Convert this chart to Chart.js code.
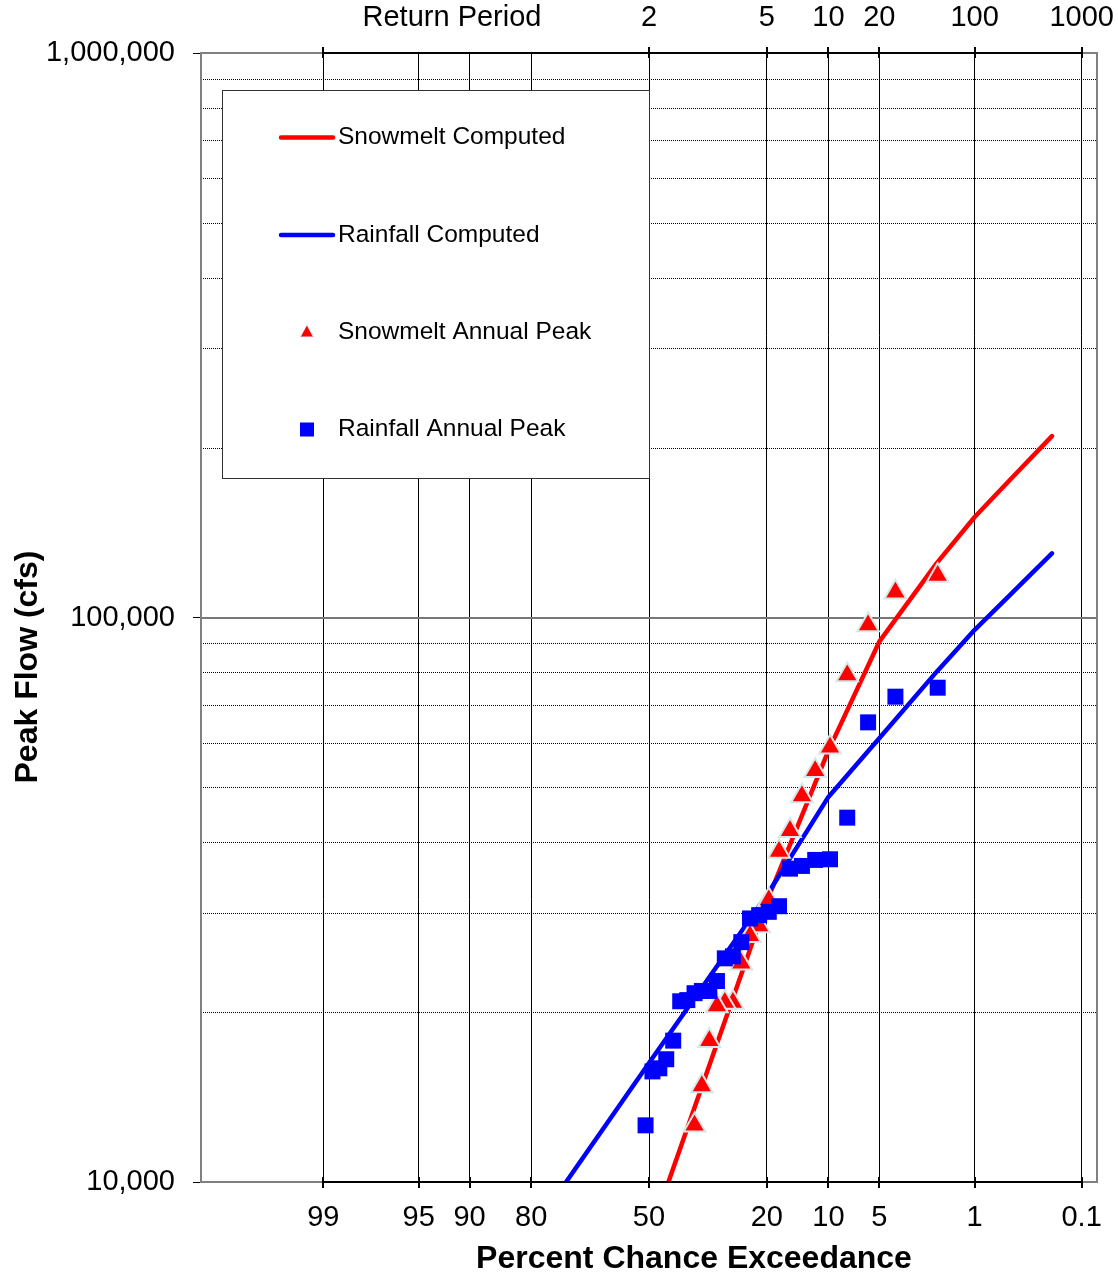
<!DOCTYPE html>
<html>
<head>
<meta charset="utf-8">
<script src="https://cdn.jsdelivr.net/npm/chart.js@4"></script>
<style>
  body { margin: 0; background: #fff; }
  canvas { display: block; }
</style>
</head>
<body>
<canvas id="freqChart" width="1118" height="1277"></canvas>
<script>
// Annual peaks, plotting position (percent chance exceedance) and flow (cfs)
const snowPeakExceed = [1.96, 3.92, 5.88, 7.84, 9.80, 11.76, 13.73, 15.69, 17.65, 19.61, 21.57, 23.53, 25.49, 27.45, 29.41, 31.37, 33.33, 35.29, 37.25];
const snowPeakFlow = [118700, 110900, 97000, 79100, 58900, 53500, 48300, 41900, 38500, 31600, 28400, 27300, 24400, 20800, 20800, 20500, 17800, 14800, 12600];

const rainPeakExceed = [1.96, 3.92, 5.88, 7.84, 9.80, 11.76, 13.73, 15.69, 17.65, 19.61, 21.57, 23.53, 25.49, 27.45, 29.41, 31.37, 33.33, 35.29, 37.25, 39.22, 41.18, 43.14, 45.10, 47.06, 49.02, 50.98];
const rainPeakFlow = [75100, 72400, 65200, 44200, 37300, 37200, 36300, 35900, 30800, 30100, 29700, 29300, 26600, 25100, 24900, 22700, 21800, 21800, 21600, 21000, 20900, 17800, 16500, 15900, 15700, 12600];

// Computed frequency curves
const curveExceed = [80, 50, 20, 10, 5, 2, 1, 0.5, 0.2];
const snowCurveFlow = [null, 7980, 31400, 58100, 90600, 124700, 150700, 175000, 209600];
const rainCurveFlow = [8150, 16250, 32200, 48100, 61100, 80100, 95100, 109400, 129900];

// Axis ticks
const xTickExceed = [99, 95, 90, 80, 50, 20, 10, 5, 1, 0.1];
const xTickLabels = ['99', '95', '90', '80', '50', '20', '10', '5', '1', '0.1'];
const topTickExceed = [99, 50, 20, 10, 5, 1, 0.1];
const topTickLabels = ['', '2', '5', '10', '20', '100', '1000'];
const yTickValues = [10000, 100000, 1000000];
const yTickLabels = ['10,000', '100,000', '1,000,000'];
const yMinorGrid = [20000, 30000, 40000, 50000, 60000, 70000, 80000, 90000,
    200000, 300000, 400000, 500000, 600000, 700000, 800000, 900000];

const FONT = '"Liberation Sans", Arial, sans-serif';

// Inverse standard normal (Acklam) - used for the probability paper x axis
function normInv(p) {
    const a = [-3.969683028665376e+01, 2.209460984245205e+02, -2.759285104469687e+02, 1.383577518672690e+02, -3.066479806614716e+01, 2.506628277386133e+00];
    const b = [-5.447609879822406e+01, 1.615858368580409e+02, -1.556989798598866e+02, 6.680131188771972e+01, -1.328068155288572e+01];
    const c = [-7.784894002430293e-03, -3.223964580411365e-01, -2.400758277161838e+00, -2.549732539343734e+00, 4.374664141464968e+00, 2.938163982698783e+00];
    const d = [7.784695709041462e-03, 3.224671290700398e-01, 2.445134137142996e+00, 3.754408661907416e+00];
    const pl = 0.02425;
    let q, r;
    if (p < pl) {
        q = Math.sqrt(-2 * Math.log(p));
        return (((((c[0] * q + c[1]) * q + c[2]) * q + c[3]) * q + c[4]) * q + c[5]) / ((((d[0] * q + d[1]) * q + d[2]) * q + d[3]) * q + 1);
    }
    if (p > 1 - pl) {
        q = Math.sqrt(-2 * Math.log(1 - p));
        return -(((((c[0] * q + c[1]) * q + c[2]) * q + c[3]) * q + c[4]) * q + c[5]) / ((((d[0] * q + d[1]) * q + d[2]) * q + d[3]) * q + 1);
    }
    q = p - 0.5;
    r = q * q;
    return (((((a[0] * r + a[1]) * r + a[2]) * r + a[3]) * r + a[4]) * r + a[5]) * q / (((((b[0] * r + b[1]) * r + b[2]) * r + b[3]) * r + b[4]) * r + 1);
}

// percent exceedance -> normal deviate
function zOf(exceed) {
    return normInv(1 - exceed / 100);
}

function toPoints(exceed, flow) {
    return exceed.map((e, i) => ({ x: zOf(e), y: flow[i] }));
}

function strokeLine(ctx, x1, y1, x2, y2) {
    ctx.beginPath();
    ctx.moveTo(x1, y1);
    ctx.lineTo(x2, y2);
    ctx.stroke();
}

// keep the plot area fixed: no extra room for overhanging labels
function fixHeight(h) {
    return scale => {
        scale.height = h;
        scale.paddingLeft = 0;
        scale.paddingRight = 0;
    };
}

// Gridlines behind data + legend box
const paperPlugin = {
    id: 'paper',
    beforeDatasetsDraw(chart) {
        const { ctx, chartArea: a, scales: { y } } = chart;
        ctx.save();

        // dotted minor lines
        ctx.strokeStyle = '#000';
        ctx.lineWidth = 1;
        ctx.setLineDash([1, 1]);
        yMinorGrid.forEach(v => {
            const py = Math.round(y.getPixelForValue(v)) + 0.5;
            strokeLine(ctx, a.left, py, a.right, py);
        });
        ctx.setLineDash([]);

        // 100,000 line
        ctx.strokeStyle = '#777';
        ctx.lineWidth = 2;
        const p100k = Math.round(y.getPixelForValue(100000));
        strokeLine(ctx, a.left, p100k, a.right, p100k);

        // legend
        ctx.fillStyle = '#fff';
        ctx.fillRect(222, 90, 428, 388);
        ctx.strokeStyle = '#333';
        ctx.lineWidth = 1;
        ctx.strokeRect(222.5, 90.5, 427, 388);

        const rows = [137.5, 235, 332, 429.5];
        const names = ['Snowmelt Computed', 'Rainfall Computed', 'Snowmelt Annual Peak', 'Rainfall Annual Peak'];

        ctx.lineCap = 'round';
        ctx.lineWidth = 4.5;
        ctx.strokeStyle = '#ff0000';
        strokeLine(ctx, 281, rows[0], 333, rows[0]);
        ctx.strokeStyle = '#0000ff';
        strokeLine(ctx, 281, rows[1], 333, rows[1]);

        // small triangle
        ctx.fillStyle = '#ff0000';
        ctx.strokeStyle = '#d9eded';
        ctx.lineWidth = 1;
        ctx.beginPath();
        ctx.moveTo(307, rows[2] - 7);
        ctx.lineTo(313.5, rows[2] + 5);
        ctx.lineTo(300.5, rows[2] + 5);
        ctx.closePath();
        ctx.fill();
        ctx.stroke();

        // small square
        ctx.fillStyle = '#0000ff';
        ctx.fillRect(300, rows[3] - 7, 14, 14);

        ctx.fillStyle = '#000';
        ctx.font = '24.5px ' + FONT;
        ctx.textAlign = 'left';
        ctx.textBaseline = 'middle';
        names.forEach((n, i) => ctx.fillText(n, 338, rows[i]));

        ctx.restore();
    },
    afterDraw(chart) {
        const { ctx, chartArea: a, scales: { x } } = chart;
        ctx.save();

        // plot border
        ctx.strokeStyle = '#808080';
        ctx.lineWidth = 2;
        ctx.strokeRect(a.left, a.top, a.right - a.left, a.bottom - a.top);

        // black axis lines with cross ticks
        ctx.strokeStyle = '#000';
        ctx.lineWidth = 2;
        const x99 = x.getPixelForValue(zOf(99));
        const x01 = x.getPixelForValue(zOf(0.1));
        strokeLine(ctx, x99, a.bottom, x01, a.bottom);
        strokeLine(ctx, x99, a.top, x01, a.top);
        xTickExceed.forEach(e => {
            const px = Math.round(x.getPixelForValue(zOf(e)));
            strokeLine(ctx, px, a.bottom - 5, px, a.bottom + 6);
        });
        topTickExceed.forEach(e => {
            const px = Math.round(x.getPixelForValue(zOf(e)));
            strokeLine(ctx, px, a.top - 6, px, a.top + 5);
        });

        // titles
        ctx.fillStyle = '#000';
        ctx.textAlign = 'center';
        ctx.textBaseline = 'middle';
        ctx.font = '29px ' + FONT;
        ctx.fillText('Return Period', 452, 18);

        ctx.font = 'bold 32px ' + FONT;
        ctx.fillText('Percent Chance Exceedance', 694, 1259);

        ctx.translate(28, 667);
        ctx.rotate(-Math.PI / 2);
        ctx.fillText('Peak Flow (cfs)', 0, 0);

        ctx.restore();
    }
};

const tickFont = { family: FONT, size: 29 };

const ctx = document.getElementById('freqChart').getContext('2d');

const freqChart = new Chart(ctx, {
    type: 'scatter',
    data: {
        datasets: [
            {
                label: 'Rainfall Annual Peak',
                data: toPoints(rainPeakExceed, rainPeakFlow),
                pointStyle: 'rect',
                pointRadius: 11.3,
                backgroundColor: '#0000ff',
                borderWidth: 0,
                order: 1
            },
            {
                label: 'Snowmelt Annual Peak',
                data: toPoints(snowPeakExceed, snowPeakFlow),
                pointStyle: 'triangle',
                pointRadius: 12.5,
                backgroundColor: '#ff0000',
                borderColor: '#d4e8e8',
                borderWidth: 2,
                order: 2
            },
            {
                label: 'Rainfall Computed',
                data: toPoints(curveExceed, rainCurveFlow),
                showLine: true,
                borderColor: '#0000ff',
                borderWidth: 4.5,
                borderCapStyle: 'round',
                borderJoinStyle: 'round',
                pointRadius: 0,
                clip: 0,
                order: 3
            },
            {
                label: 'Snowmelt Computed',
                data: toPoints(curveExceed, snowCurveFlow),
                showLine: true,
                borderColor: '#ff0000',
                borderWidth: 4.5,
                borderCapStyle: 'round',
                borderJoinStyle: 'round',
                pointRadius: 0,
                clip: 0,
                order: 4
            }
        ]
    },
    options: {
        responsive: false,
        animation: false,
        layout: { padding: { left: 0, right: 21, top: 0, bottom: 0 } },
        scales: {
            x: {
                type: 'linear',
                position: 'bottom',
                min: -3.2,
                max: 3.2,
                afterBuildTicks: scale => {
                    scale.ticks = xTickExceed.map(e => ({ value: zOf(e) }));
                },
                afterFit: fixHeight(95),
                grid: { color: '#000', lineWidth: 1, drawTicks: false },
                border: { display: false },
                ticks: {
                    autoSkip: false,
                    maxRotation: 0,
                    padding: 19,
                    color: '#000',
                    font: tickFont,
                    callback: (value, index) => xTickLabels[index]
                }
            },
            x2: {
                type: 'linear',
                position: 'top',
                min: -3.2,
                max: 3.2,
                afterBuildTicks: scale => {
                    scale.ticks = topTickExceed.map(e => ({ value: zOf(e) }));
                },
                afterFit: fixHeight(53),
                grid: { display: false, drawTicks: false },
                border: { display: false },
                ticks: {
                    autoSkip: false,
                    maxRotation: 0,
                    padding: 18,
                    color: '#000',
                    font: tickFont,
                    callback: (value, index) => topTickLabels[index]
                }
            },
            y: {
                type: 'logarithmic',
                min: 10000,
                max: 1000000,
                afterBuildTicks: scale => {
                    scale.ticks = yTickValues.map(v => ({ value: v }));
                },
                afterFit: scale => {
                    scale.width = 201;
                    scale.paddingTop = 0;
                    scale.paddingBottom = 0;
                },
                grid: { drawOnChartArea: false, drawTicks: true, tickLength: 8, tickColor: '#000', tickWidth: 1 },
                border: { display: false },
                ticks: {
                    padding: 18,
                    color: '#000',
                    font: tickFont,
                    callback: (value, index) => yTickLabels[index]
                }
            }
        },
        plugins: {
            legend: { display: false },
            tooltip: { enabled: false }
        }
    },
    plugins: [paperPlugin]
});
</script>
</body>
</html>
